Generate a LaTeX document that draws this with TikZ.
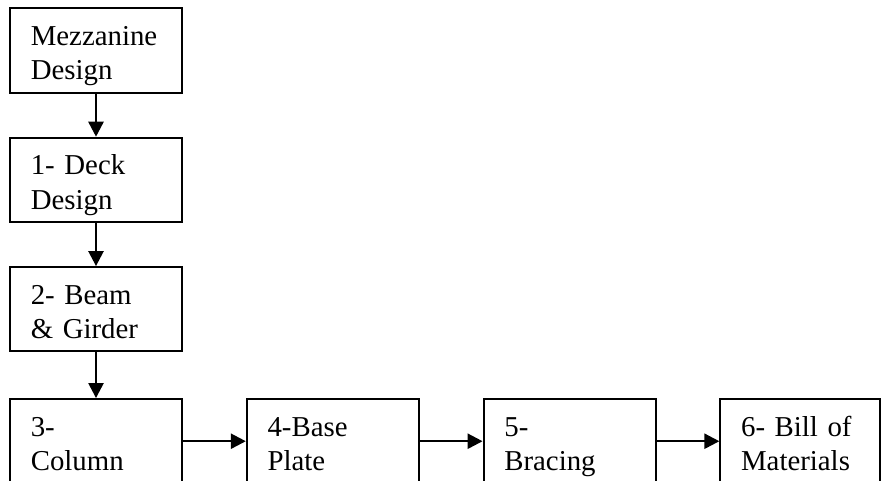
\documentclass[tikz,border=0pt]{standalone}
\usepackage{fontspec}
\setmainfont{Liberation Serif}
\usetikzlibrary{positioning,arrows.meta}

\begin{document}
\begin{tikzpicture}[
		stage/.style={draw, rectangle, line width=1.4pt, align=left, text width=3.26cm,
			inner xsep=0.52cm, inner ysep=0.455cm, text height=0.477cm, text depth=0.723cm,
			font=\fontsize{20.5pt}{24.4pt}\selectfont},
		flow/.style={line width=1.4pt, -{Triangle[length=0.375cm, width=0.38cm]}}
	]
			%%%%% START %%%%%
			
			\useasboundingbox (0, 0) rectangle (22.025, -12);
			\clip (0, 0) rectangle (22.025, -12);
			
			% design column
			\node[stage] (mezz) at (2.4, -1.2625) {Mezzanine\\Design};
			\node[stage, below=1.075cm of mezz] (deck) {1- Deck\\Design};
			\node[stage, below=1.075cm of deck] (beam) {2- Beam\\\& Girder};
			\node[stage, below=1.14cm of beam] (column) {3-\\Column};
			
			% bottom row
			\node[stage, right=1.57cm of column] (base) {4-Base\\Plate};
			\node[stage, right=1.57cm of base] (bracing) {5-\\Bracing};
			\node[stage, right=1.57cm of bracing, text width=2.96cm] (bom) {6- Bill of\\Materials};
			
			\draw[flow] (mezz) -- (deck);
			\draw[flow] (deck) -- (beam);
			\draw[flow] (beam) -- (column);
			\draw[flow] (column) -- (base);
			\draw[flow] (base) -- (bracing);
			\draw[flow] (bracing) -- (bom);
			
			%%%%% END %%%%%
\end{tikzpicture}
\end{document}
